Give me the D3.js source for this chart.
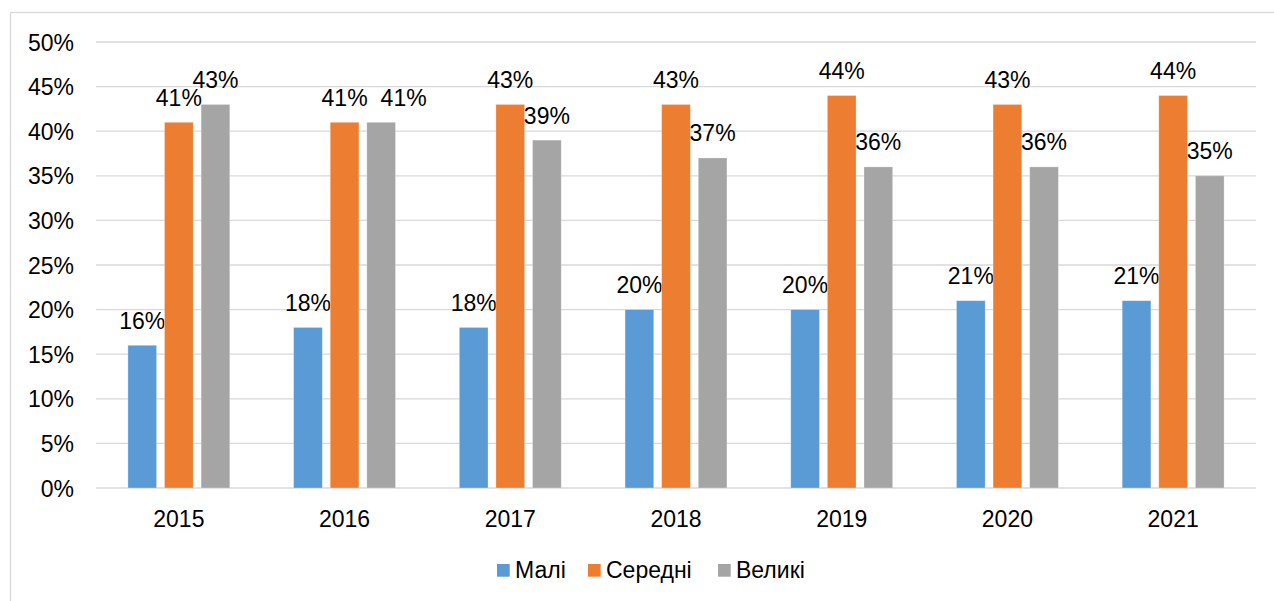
<!DOCTYPE html>
<html>
<head>
<meta charset="utf-8">
<script src="https://cdn.jsdelivr.net/npm/d3@7"></script>
<style>
  body { margin: 0; background: #fff; }
  svg { font-family: "Liberation Sans", Arial, sans-serif; }
</style>
</head>
<body>
<svg id="chart" width="1274" height="601"></svg>
<script>
const years = ['2015', '2016', '2017', '2018', '2019', '2020', '2021']
const seriesNames = ['Малі', 'Середні', 'Великі']
const small = [16, 18, 18, 20, 20, 21, 21]
const medium = [41, 41, 43, 43, 44, 43, 44]
const large = [43, 41, 39, 37, 36, 36, 35]
const yTicks = [0, 5, 10, 15, 20, 25, 30, 35, 40, 45, 50]
const colors = ['#5B9BD5', '#ED7D31', '#A5A5A5']

const series = [small, medium, large]

const plotLeft = 96
const plotRight = 1256
const plotTop = 42
const plotBottom = 488
const fontSize = 23

const svg = d3.select('#chart')

// chart border (runs off the right and bottom edges)
svg.append('rect')
  .attr('x', 10.5).attr('y', 12.5)
  .attr('width', 1400).attr('height', 800)
  .attr('fill', 'none').attr('stroke', '#d9d9d9').attr('stroke-width', 1.3)

const x = d3.scaleBand().domain(years).range([plotLeft, plotRight]).paddingInner(0).paddingOuter(0)
const y = d3.scaleLinear().domain([0, 50]).range([plotBottom, plotTop])

const barW = 28.7
const step = 36.6
const x1 = d3.scaleLinear().domain([0, 2]).range([-step, step])

// gridlines
svg.append('g').selectAll('line').data(yTicks).enter().append('line')
  .attr('x1', plotLeft).attr('x2', plotRight)
  .attr('y1', d => y(d)).attr('y2', d => y(d))
  .attr('stroke', '#d9d9d9').attr('stroke-width', 1.3)

// y tick labels
svg.append('g').selectAll('text').data(yTicks).enter().append('text')
  .attr('x', 74).attr('y', d => y(d) + 8.5)
  .attr('text-anchor', 'end')
  .attr('font-size', fontSize).attr('fill', '#000')
  .text(d => d + '%')

// x labels
svg.append('g').selectAll('text').data(years).enter().append('text')
  .attr('x', d => x(d) + x.bandwidth() / 2)
  .attr('y', 527)
  .attr('text-anchor', 'middle')
  .attr('font-size', fontSize).attr('fill', '#000')
  .text(d => d)

// bars and labels
const labels = []
series.forEach((vals, si) => {
  const g = svg.append('g')
  g.selectAll('rect').data(vals).enter().append('rect')
    .attr('x', (d, i) => x(years[i]) + x.bandwidth() / 2 + x1(si) - barW / 2)
    .attr('y', d => y(d))
    .attr('width', barW)
    .attr('height', d => y(0) - y(d))
    .attr('fill', colors[si])
    .attr('stroke', '#fff').attr('stroke-opacity', 0.35).attr('stroke-width', 0.8)

  labels[si] = g.selectAll('text').data(vals).enter().append('text')
    .attr('x', (d, i) => x(years[i]) + x.bandwidth() / 2 + x1(si))
    .attr('y', d => y(d) - 16.5)
    .attr('text-anchor', 'middle')
    .attr('font-size', fontSize).attr('fill', '#000')
    .text(d => d + '%')
    .nodes()
})

// push a label right when it would sit on top of its neighbour (like 2016)
years.forEach((yr, i) => {
  for (let si = 1; si < series.length; si++) {
    const prev = labels[si - 1][i].getBBox()
    const node = labels[si][i]
    const cur = node.getBBox()
    if (Math.abs(cur.y - prev.y) < 10 && cur.x < prev.x + prev.width + 13) {
      const shift = prev.x + prev.width + 13 - cur.x
      node.setAttribute('x', +node.getAttribute('x') + shift)
    }
  }
})

// legend
const legendItems = [
  { name: seriesNames[0], sx: 497, tx: 515 },
  { name: seriesNames[1], sx: 588, tx: 606 },
  { name: seriesNames[2], sx: 718, tx: 736 }
]
const legend = svg.append('g')
legendItems.forEach((it, i) => {
  legend.append('rect')
    .attr('x', it.sx).attr('y', 564).attr('width', 12.7).attr('height', 12.7)
    .attr('fill', colors[i])
  legend.append('text')
    .attr('x', it.tx).attr('y', 578)
    .attr('font-size', fontSize).attr('fill', '#000')
    .text(it.name)
})
</script>
</body>
</html>
